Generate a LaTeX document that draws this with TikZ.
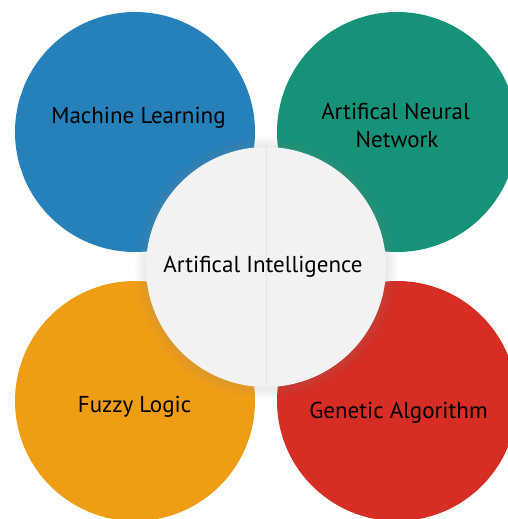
\documentclass[tikz,border=0pt]{standalone}
\usepackage{fontspec}
\setmainfont{PT Sans}
\usetikzlibrary{shadows,fadings}
\definecolor{mlblue}{HTML}{2680BA}
\definecolor{nngreen}{HTML}{169278}
\definecolor{fzorange}{HTML}{F09D16}
\definecolor{gared}{HTML}{D62D24}
\definecolor{aigray}{HTML}{F2F2F2}
\definecolor{ailine}{HTML}{E6E6E6}
\tikzset{
  petal/.style={circle, minimum size=240pt, inner sep=0pt, draw=none},
  lbl/.style={font=\fontsize{23}{28}\selectfont, text=black, align=center, inner sep=0pt, anchor=base},
}
\begin{document}
\begin{tikzpicture}[x=1pt,y=-1pt]
\useasboundingbox (0,0) rectangle (508,519);
\clip (0,0) rectangle (508,519);
\fill[white] (0,0) rectangle (508,519);
\node[petal, fill=mlblue]   (ml) at (135,132) {};
\node[petal, fill=nngreen]  (nn) at (397,132) {};
\node[petal, fill=fzorange] (fz) at (135,401) {};
\node[petal, fill=gared]    (ga) at (397,401) {};
\node[petal, fill=aigray, minimum size=240pt,
  circular drop shadow={shadow xshift=0pt, shadow yshift=0pt, shadow scale=1.1, opacity=0.28}] (ai) at (266,267) {};
\draw[ailine, line width=0.7pt] (ai.north) -- (ai.south);
\node[lbl] (mlt) at (138.5,123.5) {Machine Learning};
\node[lbl] (nnt1) at (395.5,119.5) {Artifical Neural};
\node[lbl] (nnt2) at (397,147.5) {Network};
\node[lbl] (ait) at (263,272) {Artifical Intelligence};
\node[lbl] (fzt) at (134.5,412) {Fuzzy Logic};
\node[lbl] (gat) at (398.5,418) {Genetic Algorithm};
\end{tikzpicture}
\end{document}
